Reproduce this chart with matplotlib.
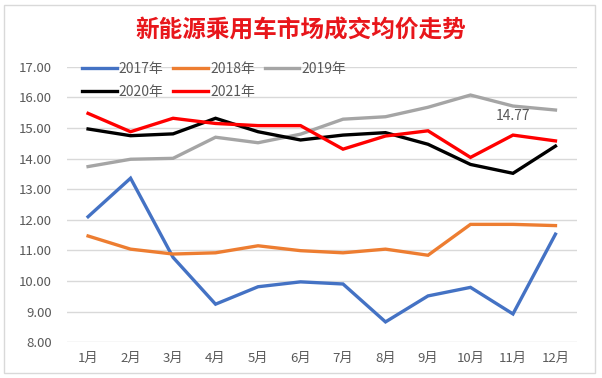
import matplotlib
matplotlib.use("Agg")
import matplotlib.pyplot as plt
from matplotlib.patches import Rectangle

plt.rcParams['font.family'] = ['Noto Sans CJK SC', 'DejaVu Sans']

# data
months = ["1月", "2月", "3月", "4月", "5月", "6月", "7月", "8月", "9月", "10月", "11月", "12月"]
y2017 = [12.10, 13.36, 10.77, 9.24, 9.81, 9.97, 9.90, 8.66, 9.51, 9.79, 8.92, 11.53]
y2018 = [11.47, 11.04, 10.88, 10.92, 11.15, 10.99, 10.92, 11.04, 10.84, 11.85, 11.85, 11.81]
y2019 = [13.74, 13.98, 14.01, 14.70, 14.52, 14.80, 15.29, 15.37, 15.68, 16.08, 15.72, 15.59]
y2020 = [14.97, 14.75, 14.81, 15.32, 14.88, 14.61, 14.77, 14.85, 14.47, 13.81, 13.52, 14.41]
y2021 = [15.48, 14.88, 15.32, 15.15, 15.08, 15.08, 14.31, 14.74, 14.91, 14.04, 14.77, 14.58]

series = [("2017年", y2017, "#4472C4"),
          ("2018年", y2018, "#ED7D31"),
          ("2019年", y2019, "#A5A5A5"),
          ("2020年", y2020, "#000000"),
          ("2021年", y2021, "#FF0000")]

fig = plt.figure(figsize=(6.02, 3.78), dpi=100)
ax = fig.add_axes([0.111, 0.095, 0.847, 0.728])

x = list(range(len(months)))
lines = []
for name, vals, col in series:
    ln, = ax.plot(x, vals, color=col, lw=2.4, label=name, solid_joinstyle="miter")
    lines.append(ln)

# data label on 2021 Nov
ax.annotate(f"{y2021[10]:.2f}", xy=(10, y2021[10]), xytext=(0, 19), textcoords="offset pixels",
            ha="center", va="center", fontsize=10, color="#595959")

ax.set_xlim(-0.5, 11.5)
ax.set_ylim(8, 17)
ax.set_yticks([8, 9, 10, 11, 12, 13, 14, 15, 16, 17])
ax.set_yticklabels([f"{v:.2f}" for v in range(8, 18)])
ax.set_xticks(x)
ax.set_xticklabels(months)
ax.tick_params(length=0, colors="#595959", labelsize=9.5, pad=7)
ax.tick_params(axis="y", pad=11)
ax.grid(axis="y", color="#D9D9D9", lw=1)
ax.set_axisbelow(True)
for s in ax.spines.values():
    s.set_visible(False)

fig.text(0.5, 0.92, "新能源乘用车市场成交均价走势", ha="center", va="center",
         fontsize=17, fontweight="bold", color="#E8161B")

# legend filled row by row: 2017 2018 2019 / 2020 2021
order = [0, 3, 1, 4, 2]
leg = fig.legend([lines[i] for i in order], [series[i][0] for i in order],
                 loc="upper left", bbox_to_anchor=(0.12, 0.863), ncol=3, frameon=False,
                 fontsize=10, handlelength=2.5, handletextpad=0.15, columnspacing=0.7,
                 labelspacing=0.65, borderpad=0.2)
for t in leg.get_texts():
    t.set_color("#595959")

fig.patches.append(Rectangle((0.007, 0.013), 0.982, 0.975, transform=fig.transFigure,
                             fill=False, edgecolor="#D9D9D9", lw=1))

fig.savefig("out.png", dpi=100)
